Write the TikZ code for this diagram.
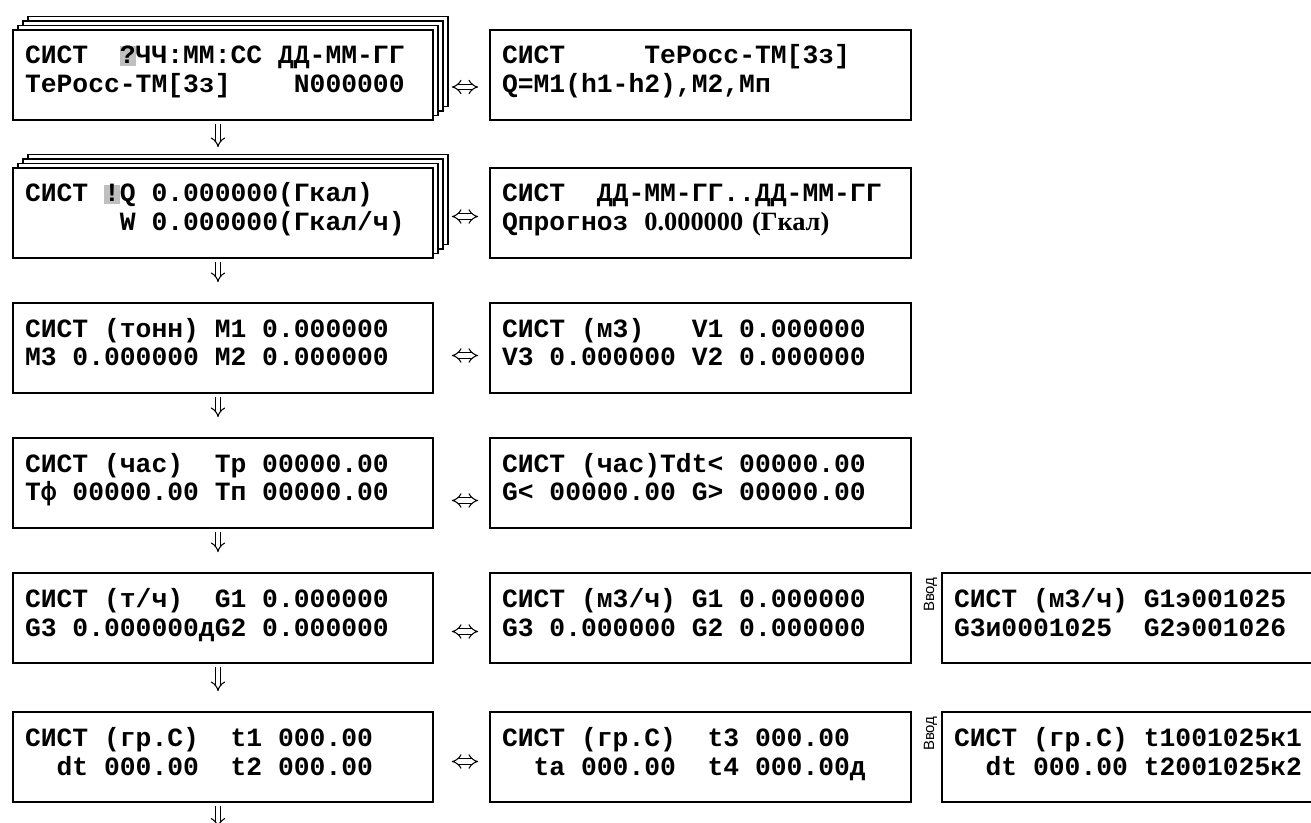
\documentclass[tikz,border=0pt]{standalone}
\usepackage{fontspec}
\usepackage{tikz}
\usetikzlibrary{arrows.meta, shadows}

\newfontfamily\lcdfont{Liberation Mono}
\newfontfamily\lcdserif{Liberation Serif}
\newfontfamily\vvodfont{Liberation Sans}
\definecolor{cursgray}{gray}{0.75}
\newcommand{\curs}[1]{{\setlength{\fboxsep}{0pt}\colorbox{cursgray}{\rule[-1.2pt]{0pt}{10.8pt}#1}}}
\newcommand{\gap}[1][1]{\hspace*{#1\fontcharwd\font`\0}}

\begin{document}
\begin{tikzpicture}[
        screen/.style={rectangle, draw, fill=white, line width=0.9pt, minimum height=1.8cm, text height=0.68cm, text depth=1.12cm, inner ysep=0pt, inner xsep=0.24cm, align=left, font=\lcdfont\bfseries\fontsize{15pt}{16.5pt}\selectfont},
        lscreen/.style={screen, text width=7.92cm},
        rscreen/.style={screen, text width=7.94cm},
        fscreen/.style={screen, text width=7.24cm},
        stack/.style={copy shadow={shadow xshift=0.3cm, shadow yshift=0.27cm, line width=0.9pt},
                      copy shadow={shadow xshift=0.2cm, shadow yshift=0.18cm, line width=0.9pt},
                      copy shadow={shadow xshift=0.1cm, shadow yshift=0.09cm, line width=0.9pt}},
        downar/.style={double, double distance=2.3pt, line width=0.6pt, -{Implies}, shorten <=0.06cm, shorten >=0.4cm},
        swapar/.style={double, double distance=2.3pt, line width=0.6pt, {Implies}-{Implies}, shorten <=0.36cm, shorten >=0.22cm},
        vvod/.style={rotate=90, inner sep=1pt, font=\vvodfont\fontsize{8.5pt}{9pt}\selectfont}
    ]
        \useasboundingbox (0,0) rectangle (26.22,-16.46);

        % Left column
        \node[lscreen, stack] (l1) at (4.46,-1.5) {СИСТ\gap[2]\curs{?}ЧЧ:ММ:СС\gap ДД-ММ-ГГ\\ТеРосс-ТМ[3з]\gap[4]N000000};
        \node[lscreen, stack] (l2) at (4.46,-4.26) {СИСТ\gap\curs{!}Q\gap 0.000000(Гкал)\\\gap[6]W\gap 0.000000(Гкал/ч)};
        \node[lscreen] (l3) at (4.46,-6.96) {СИСТ\gap(тонн)\gap M1\gap 0.000000\\M3\gap 0.000000\gap M2\gap 0.000000};
        \node[lscreen] (l4) at (4.46,-9.66) {СИСТ\gap(час)\gap[2]Тр\gap 00000.00\\Тф\gap 00000.00\gap Тп\gap 00000.00};
        \node[lscreen] (l5) at (4.46,-12.36) {СИСТ\gap(т/ч)\gap[2]G1\gap 0.000000\\G3\gap 0.000000дG2\gap 0.000000};
        \node[lscreen] (l6) at (4.46,-15.14) {СИСТ\gap(гр.С)\gap[2]t1\gap 000.00\\\gap[2]dt\gap 000.00\gap[2]t2\gap 000.00};
        \coordinate (l6out) at ([yshift=-0.9cm]l6.south);

        % Right column
        \node[rscreen] (r1) at (14.01,-1.5) {СИСТ\gap[5]ТеРосс-ТМ[3з]\\Q=M1(h1-h2),M2,Mп};
        \node[rscreen] (r2) at (14.01,-4.26) {СИСТ\gap[2]ДД-ММ-ГГ..ДД-ММ-ГГ\\Qпрогноз\gap{\lcdserif\fontsize{15pt}{16.5pt}\selectfont 0.000000 (Гкал)}};
        \node[rscreen] (r3) at (14.01,-6.96) {СИСТ\gap(м3)\gap[3]V1\gap 0.000000\\V3\gap 0.000000\gap V2\gap 0.000000};
        \node[rscreen] (r4) at (14.01,-9.66) {СИСТ\gap(час)Tdt<\gap 00000.00\\G<\gap 00000.00\gap G>\gap 00000.00};
        \node[rscreen] (r5) at (14.01,-12.36) {СИСТ\gap(м3/ч)\gap G1\gap 0.000000\\G3\gap 0.000000\gap G2\gap 0.000000};
        \node[rscreen] (r6) at (14.01,-15.14) {СИСТ\gap(гр.С)\gap[2]t3\gap 000.00\\\gap[2]ta\gap 000.00\gap[2]t4\gap 000.00д};

        % Input screens
        \node[fscreen] (f5) at (22.7,-12.36) {СИСТ\gap(м3/ч)\gap G1э001025\\G3и0001025\gap[2]G2э001026};
        \node[fscreen] (f6) at (22.7,-15.14) {СИСТ\gap(гр.С)\gap t1001025к1\\\gap[2]dt\gap 000.00\gap t2001025к2};
        \node[vvod, anchor=south east] (v5) at ([xshift=-0.04cm, yshift=-0.06cm]f5.north west) {Ввод};
        \node[vvod, anchor=south east] (v6) at ([xshift=-0.04cm, yshift=-0.06cm]f6.north west) {Ввод};

        % Down arrows
        \draw[downar] ([xshift=-0.1cm]l1.south) -- ([xshift=-0.1cm]l2.north);
        \draw[downar] ([xshift=-0.1cm]l2.south) -- ([xshift=-0.1cm]l3.north);
        \draw[downar] ([xshift=-0.1cm]l3.south) -- ([xshift=-0.1cm]l4.north);
        \draw[downar] ([xshift=-0.1cm]l4.south) -- ([xshift=-0.1cm]l5.north);
        \draw[downar] ([xshift=-0.1cm]l5.south) -- ([xshift=-0.1cm]l6.north);
        \draw[downar] ([xshift=-0.1cm]l6.south) -- ([xshift=-0.1cm]l6out);

        % Swap arrows
        \draw[swapar] ([yshift=-0.24cm]l1.east) -- ([yshift=-0.24cm]r1.west);
        \draw[swapar] ([yshift=-0.07cm]l2.east) -- ([yshift=-0.07cm]r2.west);
        \draw[swapar] ([yshift=-0.15cm]l3.east) -- ([yshift=-0.15cm]r3.west);
        \draw[swapar] ([yshift=-0.35cm]l4.east) -- ([yshift=-0.35cm]r4.west);
        \draw[swapar] ([yshift=-0.27cm]l5.east) -- ([yshift=-0.27cm]r5.west);
        \draw[swapar] ([yshift=-0.09cm]l6.east) -- ([yshift=-0.09cm]r6.west);
    \end{tikzpicture}
\end{document}
